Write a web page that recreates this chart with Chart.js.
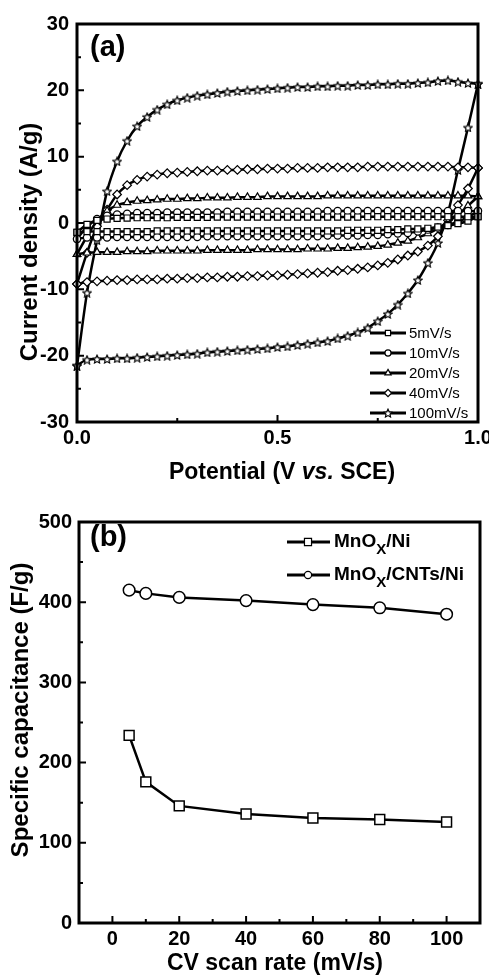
<!DOCTYPE html>
<html lang="en">
<head>
    <meta charset="UTF-8">
    <title>MnOx CV curves and capacitance</title>
    <script src="https://cdn.jsdelivr.net/npm/chart.js"></script>
    <style>
        body { margin: 0; background: #fff; }
        #wrap { position: relative; width: 489px; height: 975px; }
        #cvChart { position: absolute; left: 0; top: 0; }
        #capChart { position: absolute; left: 0; top: 480px; }
    </style>
</head>
<body>
<div id="wrap">
    <canvas id="cvChart" width="489" height="500"></canvas>
    <canvas id="capChart" width="489" height="495"></canvas>
</div>

<script>
    // ---- panel (a): CV curves, current density (A/g) vs potential (V vs. SCE)
    const potential = [0, 0.025, 0.05, 0.075, 0.1, 0.125, 0.15, 0.175, 0.2, 0.225,
        0.25, 0.275, 0.3, 0.325, 0.35, 0.375, 0.4, 0.425, 0.45, 0.475,
        0.5, 0.525, 0.55, 0.575, 0.6, 0.625, 0.65, 0.675, 0.7, 0.725,
        0.75, 0.775, 0.8, 0.825, 0.85, 0.875, 0.9, 0.925, 0.95, 0.975,
        1.0];

    const scanLabels = ['5mV/s', '10mV/s', '20mV/s', '40mV/s', '100mV/s'];

    // anodic (upper) and cathodic (lower) branches, same potential grid
    const fwd5 = [-1.4, -0.2, 0.4, 0.6, 0.7, 0.75, 0.8, 0.8, 0.8, 0.8,
        0.85, 0.85, 0.85, 0.85, 0.9, 0.9, 0.9, 0.9, 0.9, 0.9,
        0.9, 0.9, 0.9, 0.9, 0.9, 0.9, 0.9, 0.9, 0.9, 0.95,
        0.95, 0.95, 0.95, 0.95, 0.95, 0.95, 0.95, 0.95, 0.95, 0.95,
        0.95];
    const rev5 = [-1.4, -1.3, -1.3, -1.3, -1.3, -1.3, -1.3, -1.3, -1.2, -1.2,
        -1.2, -1.2, -1.2, -1.2, -1.2, -1.2, -1.2, -1.2, -1.2, -1.2,
        -1.2, -1.2, -1.2, -1.2, -1.2, -1.2, -1.2, -1.1, -1.1, -1.1,
        -1.1, -1.0, -1.0, -0.9, -0.9, -0.8, -0.6, -0.4, -0.1, 0.3,
        0.95];
    const fwd10 = [-2.4, -0.6, 0.6, 1.1, 1.3, 1.4, 1.5, 1.5, 1.5, 1.6,
        1.6, 1.6, 1.6, 1.6, 1.6, 1.7, 1.7, 1.7, 1.7, 1.7,
        1.7, 1.7, 1.7, 1.7, 1.7, 1.8, 1.8, 1.8, 1.8, 1.8,
        1.8, 1.8, 1.8, 1.8, 1.8, 1.8, 1.8, 1.8, 1.8, 1.8,
        1.8];
    const rev10 = [-2.4, -2.2, -2.2, -2.2, -2.1, -2.1, -2.1, -2.1, -2.1, -2.1,
        -2.1, -2.1, -2.1, -2.0, -2.0, -2.0, -2.0, -2.0, -2.0, -2.0,
        -2.0, -2.0, -2.0, -2.0, -2.0, -1.9, -1.9, -1.9, -1.9, -1.8,
        -1.8, -1.7, -1.6, -1.5, -1.3, -1.0, -0.7, -0.3, 0.2, 0.9,
        1.8];
    const fwd20 = [-4.7, -2.0, 0.3, 1.8, 2.7, 3.1, 3.3, 3.4, 3.5, 3.6,
        3.6, 3.7, 3.7, 3.8, 3.8, 3.8, 3.9, 3.9, 3.9, 4.0,
        4.0, 4.0, 4.0, 4.0, 4.0, 4.1, 4.1, 4.1, 4.1, 4.1,
        4.1, 4.1, 4.1, 4.1, 4.1, 4.1, 4.1, 4.1, 4.1, 4.1,
        4.0];
    const rev20 = [-4.7, -4.5, -4.4, -4.4, -4.4, -4.3, -4.3, -4.3, -4.2, -4.2,
        -4.2, -4.2, -4.2, -4.1, -4.1, -4.1, -4.1, -4.1, -4.0, -4.0,
        -4.0, -4.0, -4.0, -3.9, -3.9, -3.9, -3.8, -3.8, -3.7, -3.6,
        -3.5, -3.3, -3.0, -2.7, -2.2, -1.6, -0.8, 0.2, 1.2, 2.6,
        4.0];
    const fwd40 = [-9.2, -4.5, -0.5, 2.0, 4.3, 5.7, 6.5, 7.0, 7.3, 7.5,
        7.6, 7.7, 7.8, 7.9, 7.9, 8.0, 8.0, 8.1, 8.1, 8.2,
        8.2, 8.2, 8.3, 8.3, 8.3, 8.4, 8.4, 8.4, 8.4, 8.5,
        8.5, 8.5, 8.5, 8.5, 8.5, 8.5, 8.5, 8.5, 8.4, 8.4,
        8.3];
    const rev40 = [-9.2, -8.9, -8.8, -8.7, -8.6, -8.6, -8.5, -8.5, -8.5, -8.4,
        -8.4, -8.3, -8.3, -8.2, -8.2, -8.1, -8.1, -8.0, -8.0, -7.9,
        -7.9, -7.8, -7.7, -7.6, -7.5, -7.4, -7.2, -7.1, -6.9, -6.7,
        -6.4, -6.0, -5.5, -4.9, -4.3, -3.4, -2.0, 0.4, 2.7, 5.2,
        8.3];
    const fwd100 = [-21.5, -10.5, -2.6, 4.8, 9.3, 12.4, 14.6, 16.0, 17.1, 17.9,
        18.5, 18.9, 19.2, 19.4, 19.6, 19.8, 19.9, 20.0, 20.1, 20.2,
        20.3, 20.4, 20.5, 20.5, 20.6, 20.6, 20.7, 20.7, 20.8, 20.8,
        20.9, 20.9, 21.0, 21.0, 21.1, 21.2, 21.4, 21.5, 21.3, 21.1,
        21.0];
    const rev100 = [-21.5, -20.6, -20.5, -20.5, -20.4, -20.4, -20.3, -20.2, -20.1, -20.0,
        -19.9, -19.8, -19.7, -19.5, -19.4, -19.3, -19.2, -19.1, -19.0, -18.9,
        -18.7, -18.6, -18.4, -18.2, -18.0, -17.8, -17.4, -17.0, -16.5, -15.8,
        -14.8, -13.7, -12.3, -10.6, -8.6, -6.0, -3.0, 1.5, 8.0, 14.4,
        21.0];

    const potentialTicks = [0, 0.5, 1.0];
    const potentialMinor = [0.25, 0.75];
    const currentTicks = [-30, -20, -10, 0, 10, 20, 30];
    const currentMinor = [-25, -15, -5, 5, 15, 25];

    // ---- panel (b): specific capacitance (F/g) vs CV scan rate (mV/s)
    const scanRate = [5, 10, 20, 40, 60, 80, 100];
    const capMnOxNi = [234, 176, 146, 136, 131, 129, 126];
    const capMnOxCntNi = [415, 411, 406, 402, 397, 393, 385];

    const rateTicks = [0, 20, 40, 60, 80, 100];
    const rateMinor = [10, 30, 50, 70, 90];
    const capTicks = [0, 100, 200, 300, 400, 500];
    const capMinor = [50, 150, 250, 350, 450];

    const FONT = '"Liberation Sans", Arial, sans-serif';
    Chart.defaults.color = '#000';
    Chart.defaults.font.family = FONT;

    function makeStar(size) {
        const c = document.createElement('canvas');
        c.width = c.height = size;
        const g = c.getContext('2d');
        const r = size / 2 - 0.7, ri = r * 0.48, cx = size / 2, cy = size / 2 + 0.5;
        g.beginPath();
        for (let k = 0; k < 10; k++) {
            const rr = k % 2 ? ri : r;
            const ang = -Math.PI / 2 + k * Math.PI / 5;
            g.lineTo(cx + rr * Math.cos(ang), cy + rr * Math.sin(ang));
        }
        g.closePath();
        g.fillStyle = '#fff';
        g.fill();
        g.strokeStyle = '#000';
        g.lineWidth = 1.2;
        g.stroke();
        return c;
    }
    const starImg = makeStar(10);

    function marker(ctx, style, radius, x, y) {
        ctx.save();
        ctx.strokeStyle = '#000';
        ctx.fillStyle = '#fff';
        ctx.lineWidth = 1.2;
        Chart.helpers.drawPoint(ctx, { pointStyle: style, radius: radius, rotation: 0, borderWidth: 1.2 }, x, y);
        ctx.restore();
    }

    // draw pieces of text with their own fonts, centred on cx
    function drawParts(ctx, parts, cx, y) {
        let total = 0;
        parts.forEach(p => { ctx.font = p[0]; total += ctx.measureText(p[1]).width; });
        let x = cx - total / 2;
        ctx.textAlign = 'left';
        parts.forEach(p => {
            ctx.font = p[0];
            ctx.fillText(p[1], x, y + (p[2] || 0));
            x += ctx.measureText(p[1]).width;
        });
    }

    // frame with inward ticks on the left and bottom axes
    const frameTicks = {
        id: 'frameTicks',
        afterDatasetsDraw(chart, args, opts) {
            const { ctx, chartArea: a, scales: { x, y } } = chart;
            ctx.save();
            ctx.strokeStyle = '#000';
            ctx.lineWidth = 2;
            ctx.beginPath();
            const xt = (vals, len) => vals.forEach(v => {
                const px = x.getPixelForValue(v);
                ctx.moveTo(px, a.bottom); ctx.lineTo(px, a.bottom - len);
            });
            const yt = (vals, len) => vals.forEach(v => {
                const py = y.getPixelForValue(v);
                ctx.moveTo(a.left, py); ctx.lineTo(a.left + len, py);
            });
            xt(opts.xMajor, 7); xt(opts.xMinor, 4);
            yt(opts.yMajor, 7); yt(opts.yMinor, 4);
            ctx.stroke();
            ctx.lineWidth = 3;
            ctx.strokeRect(a.left, a.top, a.width, a.height);
            ctx.restore();
        }
    };

    const cvMarkers = [
        { style: 'rect', radius: 4.3 },
        { style: 'circle', radius: 3.6 },
        { style: 'triangle', radius: 4.3 },
        { style: 'rectRot', radius: 4.3 },
        { style: starImg, radius: 5 }
    ];
    const cvSeries = [
        { fwd: fwd5, rev: rev5 },
        { fwd: fwd10, rev: rev10 },
        { fwd: fwd20, rev: rev20 },
        { fwd: fwd40, rev: rev40 },
        { fwd: fwd100, rev: rev100 }
    ];
    const toPoints = arr => potential.map((v, i) => ({ x: v, y: arr[i] }));

    const cvDatasets = [];
    cvSeries.forEach((s, i) => {
        [s.fwd, s.rev].forEach(branch => {
            cvDatasets.push({
                label: scanLabels[i],
                data: toPoints(branch),
                showLine: true,
                borderColor: '#000',
                borderWidth: 2.5,
                cubicInterpolationMode: 'monotone',
                pointStyle: cvMarkers[i].style,
                pointRadius: cvMarkers[i].radius,
                pointBorderWidth: 1.2,
                pointBorderColor: '#000',
                pointBackgroundColor: '#fff',
                clip: 6
            });
        });
    });

    const cvText = {
        id: 'cvText',
        afterDraw(chart) {
            const ctx = chart.ctx;
            ctx.save();
            ctx.fillStyle = '#000';
            ctx.textBaseline = 'alphabetic';
            ctx.textAlign = 'left';
            ctx.font = 'bold 29px ' + FONT;
            ctx.fillText('(a)', 90, 56);

            drawParts(ctx, [['bold 23px ' + FONT, 'Potential (V '], ['italic bold 23px ' + FONT, 'vs.'], ['bold 23px ' + FONT, ' SCE)']], 282, 479);

            ctx.save();
            ctx.translate(30, 242);
            ctx.rotate(-Math.PI / 2);
            ctx.textAlign = 'center';
            ctx.textBaseline = 'middle';
            ctx.font = 'bold 24px ' + FONT;
            ctx.fillText('Current density (A/g)', 0, 0);
            ctx.restore();

            // legend
            const rows = [333, 353, 373, 393, 413];
            scanLabels.forEach((lab, i) => {
                const yy = rows[i];
                ctx.strokeStyle = '#000';
                ctx.lineWidth = 3;
                ctx.beginPath();
                ctx.moveTo(370, yy);
                ctx.lineTo(406, yy);
                ctx.stroke();
                marker(ctx, cvMarkers[i].style, cvMarkers[i].radius * 0.85, 388, yy);
                ctx.fillStyle = '#000';
                ctx.font = '15px ' + FONT;
                ctx.textAlign = 'left';
                ctx.textBaseline = 'middle';
                ctx.fillText(lab, 409, yy + 1);
            });
            ctx.restore();
        }
    };

    const tickFont = { size: 20, weight: 'bold', family: FONT };

    new Chart(document.getElementById('cvChart'), {
        type: 'scatter',
        data: { datasets: cvDatasets },
        options: {
            responsive: false,
            animation: false,
            events: [],
            layout: { padding: { top: 24, right: 11, left: 0, bottom: 0 } },
            plugins: {
                legend: { display: false },
                tooltip: { enabled: false },
                frameTicks: { xMajor: potentialTicks, xMinor: potentialMinor, yMajor: currentTicks, yMinor: currentMinor }
            },
            scales: {
                x: {
                    type: 'linear', min: 0, max: 1,
                    grid: { display: false, drawTicks: false },
                    border: { display: false },
                    ticks: { font: tickFont, color: '#000', padding: 4, callback: v => v.toFixed(1) },
                    afterBuildTicks: s => { s.ticks = potentialTicks.map(v => ({ value: v })); },
                    afterFit: s => { s.height = 78; s.paddingLeft = 0; s.paddingRight = 0; }
                },
                y: {
                    min: -30, max: 30,
                    grid: { display: false, drawTicks: false },
                    border: { display: false },
                    ticks: { font: tickFont, color: '#000', padding: 8 },
                    afterBuildTicks: s => { s.ticks = currentTicks.map(v => ({ value: v })); },
                    afterFit: s => { s.width = 77; s.paddingTop = 0; s.paddingBottom = 0; }
                }
            }
        },
        plugins: [frameTicks, cvText]
    });

    // ---- panel (b)
    const capText = {
        id: 'capText',
        afterDraw(chart) {
            const ctx = chart.ctx;
            ctx.save();
            ctx.fillStyle = '#000';
            ctx.textBaseline = 'alphabetic';
            ctx.textAlign = 'left';
            ctx.font = 'bold 29px ' + FONT;
            ctx.fillText('(b)', 90, 66);

            drawParts(ctx, [['bold 23px ' + FONT, 'CV scan rate (mV/s)']], 275, 490);

            ctx.save();
            ctx.translate(21, 230);
            ctx.rotate(-Math.PI / 2);
            ctx.textAlign = 'center';
            ctx.textBaseline = 'middle';
            ctx.font = 'bold 24px ' + FONT;
            ctx.fillText('Specific capacitance (F/g)', 0, 0);
            ctx.restore();

            // legend
            const rows = [62, 95];
            const styles = [['rect', 5], ['circle', 3.6]];
            const tails = ['/Ni', '/CNTs/Ni'];
            rows.forEach((yy, i) => {
                ctx.strokeStyle = '#000';
                ctx.lineWidth = 3;
                ctx.beginPath();
                ctx.moveTo(287, yy);
                ctx.lineTo(330, yy);
                ctx.stroke();
                marker(ctx, styles[i][0], styles[i][1], 308, yy);
                ctx.fillStyle = '#000';
                ctx.textBaseline = 'alphabetic';
                ctx.textAlign = 'left';
                let x = 334;
                ctx.font = 'bold 19px ' + FONT;
                ctx.fillText('MnO', x, yy + 5);
                x += ctx.measureText('MnO').width;
                ctx.font = 'bold 15px ' + FONT;
                ctx.fillText('X', x, yy + 12);
                x += ctx.measureText('X').width;
                ctx.font = 'bold 19px ' + FONT;
                ctx.fillText(tails[i], x, yy + 5);
            });
            ctx.restore();
        }
    };

    new Chart(document.getElementById('capChart'), {
        type: 'scatter',
        data: {
            datasets: [
                {
                    label: 'MnOx/Ni',
                    data: scanRate.map((r, i) => ({ x: r, y: capMnOxNi[i] })),
                    showLine: true,
                    borderColor: '#000',
                    borderWidth: 2.5,
                    pointStyle: 'rect',
                    pointRadius: 7,
                    pointBorderWidth: 1.5,
                    pointBorderColor: '#000',
                    pointBackgroundColor: '#fff'
                },
                {
                    label: 'MnOx/CNTs/Ni',
                    data: scanRate.map((r, i) => ({ x: r, y: capMnOxCntNi[i] })),
                    showLine: true,
                    borderColor: '#000',
                    borderWidth: 2.5,
                    pointStyle: 'circle',
                    pointRadius: 5.8,
                    pointBorderWidth: 1.5,
                    pointBorderColor: '#000',
                    pointBackgroundColor: '#fff'
                }
            ]
        },
        options: {
            responsive: false,
            animation: false,
            events: [],
            layout: { padding: { top: 42, right: 9, left: 0, bottom: 0 } },
            plugins: {
                legend: { display: false },
                tooltip: { enabled: false },
                frameTicks: { xMajor: rateTicks, xMinor: rateMinor, yMajor: capTicks, yMinor: capMinor }
            },
            scales: {
                x: {
                    type: 'linear', min: -10, max: 110,
                    grid: { display: false, drawTicks: false },
                    border: { display: false },
                    ticks: { font: tickFont, color: '#000', padding: 4 },
                    afterBuildTicks: s => { s.ticks = rateTicks.map(v => ({ value: v })); },
                    afterFit: s => { s.height = 52; s.paddingLeft = 0; s.paddingRight = 0; }
                },
                y: {
                    min: 0, max: 500,
                    grid: { display: false, drawTicks: false },
                    border: { display: false },
                    ticks: { font: tickFont, color: '#000', padding: 7 },
                    afterBuildTicks: s => { s.ticks = capTicks.map(v => ({ value: v })); },
                    afterFit: s => { s.width = 79; s.paddingTop = 0; s.paddingBottom = 0; }
                }
            }
        },
        plugins: [frameTicks, capText]
    });
</script>
</body>
</html>
